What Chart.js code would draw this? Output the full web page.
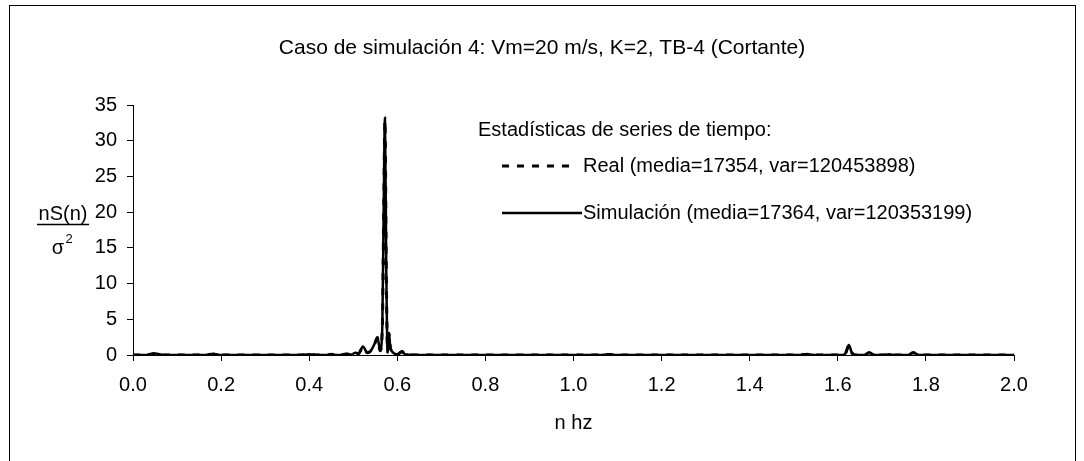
<!DOCTYPE html>
<html>
<head>
<meta charset="utf-8">
<script src="https://cdn.jsdelivr.net/npm/chart.js@4.4.0/dist/chart.umd.min.js"></script>
<style>
  html, body { margin: 0; padding: 0; background: #fff; }
</style>
</head>
<body>
<canvas id="myChart" width="1084" height="461"></canvas>
<script>
const titulo = "Caso de simulación 4: Vm=20 m/s, K=2, TB-4 (Cortante)";
const tituloLeyenda = "Estadísticas de series de tiempo:";
const nombreReal = "Real (media=17354, var=120453898)";
const nombreSim = "Simulación (media=17364, var=120353199)";

// frecuencia n (hz)
const frecuencias = [0, 0.03, 0.05, 0.07, 0.16, 0.184, 0.2, 0.38, 0.40, 0.42, 0.44, 0.45, 0.46,
    0.47, 0.484, 0.495, 0.505, 0.512, 0.522, 0.532, 0.54, 0.548, 0.555, 0.561, 0.566, 0.569,
    0.572, 0.575, 0.578, 0.581, 0.584, 0.588, 0.594, 0.60, 0.606, 0.611, 0.617, 0.625, 0.64,
    1.06, 1.078, 1.10, 1.51, 1.532, 1.55, 1.61, 1.618, 1.625, 1.632, 1.64, 1.66, 1.671, 1.685,
    1.705, 1.716, 1.73, 1.76, 1.771, 1.785, 2.0];

// nS(n)/sigma^2
const real = [0, 0, 0.2, 0, 0, 0.15, 0, 0, 0.1, 0, 0, 0.1, 0,
    0, 0.15, 0.05, 0.3, 0.2, 1.1, 0.3, 0.6, 1.4, 2.4, 0.6, 3.8, 19,
    32.8, 11.5, 0.4, 3.0, 1.1, 0.5, 0.2, 0.1, 0.3, 0.5, 0.1, 0.05, 0,
    0, 0.08, 0, 0, 0.1, 0, 0, 0.3, 1.3, 0.3, 0, 0, 0.3, 0,
    0, 0.1, 0, 0, 0.3, 0, 0];

const simulacion = [0, 0, 0.2, 0, 0, 0.15, 0, 0, 0.1, 0, 0, 0.1, 0,
    0, 0.15, 0.05, 0.3, 0.2, 1.2, 0.3, 0.6, 1.5, 2.5, 0.6, 4, 20,
    33.2, 12, 0.4, 3.1, 1.2, 0.5, 0.2, 0.1, 0.3, 0.5, 0.1, 0.05, 0,
    0, 0.08, 0, 0, 0.1, 0, 0, 0.3, 1.4, 0.3, 0, 0, 0.3, 0,
    0, 0.1, 0, 0, 0.35, 0, 0];

const fuente = "'Liberation Sans', Arial, sans-serif";

function puntos(valores){
    let arr = [];
    frecuencias.forEach((f, i) => {
        arr.push({x: f, y: valores[i]});
    });
    return arr;
}

// marco, titulo, titulo del eje y y leyenda
const adornos = {
    id: 'adornos',
    beforeDraw(chart){
        const ctx = chart.ctx;
        ctx.save();
        ctx.fillStyle = '#fff';
        ctx.fillRect(0, 0, chart.width, chart.height);
        ctx.strokeStyle = '#000';
        ctx.lineWidth = 1;
        ctx.strokeRect(9.5, 5.5, 1066, 480);
        ctx.restore();
    },
    afterDraw(chart){
        const ctx = chart.ctx;
        ctx.save();
        ctx.fillStyle = '#000';
        ctx.strokeStyle = '#000';
        ctx.textBaseline = 'middle';

        ctx.font = "21px " + fuente;
        ctx.textAlign = 'center';
        ctx.fillText(titulo, 542, 48);

        // nS(n) / sigma^2
        ctx.font = "20px " + fuente;
        ctx.fillText("nS(n)", 63, 214);
        ctx.lineWidth = 1.5;
        ctx.beginPath();
        ctx.moveTo(37, 224.5);
        ctx.lineTo(89, 224.5);
        ctx.stroke();
        ctx.fillText("σ", 58, 248);
        ctx.font = "13px " + fuente;
        ctx.fillText("2", 69, 239);

        // leyenda
        ctx.font = "20px " + fuente;
        ctx.textAlign = 'left';
        ctx.fillText(tituloLeyenda, 478, 130);

        const ds = chart.data.datasets;
        const filas = [{y: 166, x2: 569}, {y: 213, x2: 582}];
        ds.forEach((d, i) => {
            ctx.lineWidth = d.borderWidth;
            ctx.setLineDash(d.borderDash || []);
            ctx.beginPath();
            ctx.moveTo(502, filas[i].y);
            ctx.lineTo(filas[i].x2, filas[i].y);
            ctx.stroke();
            ctx.setLineDash([]);
            ctx.fillText(d.label, 583, filas[i].y);
        });
        ctx.restore();
    }
};

const ctx = document.getElementById('myChart');

new Chart(ctx, {
    type: 'line',
    data: {
        datasets: [{
            label: nombreReal,
            data: puntos(real),
            borderColor: '#000',
            borderWidth: 3,
            borderDash: [7, 8],
            pointRadius: 0,
            cubicInterpolationMode: 'monotone'
        }, {
            label: nombreSim,
            data: puntos(simulacion),
            borderColor: '#000',
            borderWidth: 2.5,
            pointRadius: 0,
            cubicInterpolationMode: 'monotone'
        }]
    },
    options: {
        responsive: false,
        animation: false,
        devicePixelRatio: 1,
        layout: {
            padding: {left: 0, top: 105, right: 70, bottom: 0}
        },
        plugins: {
            legend: {display: false},
            tooltip: {enabled: false}
        },
        scales: {
            x: {
                type: 'linear',
                min: 0,
                max: 2,
                afterFit: s => { s.height = 106; },
                ticks: {
                    stepSize: 0.2,
                    color: '#000',
                    padding: 12,
                    maxRotation: 0,
                    font: {family: fuente, size: 20},
                    callback: v => v.toFixed(1)
                },
                grid: {
                    drawOnChartArea: false,
                    drawTicks: true,
                    tickLength: 6,
                    tickColor: '#000'
                },
                border: {display: true, color: '#000', width: 1},
                title: {
                    display: true,
                    text: 'n hz',
                    color: '#000',
                    font: {family: fuente, size: 20},
                    padding: {top: 0, bottom: 26}
                }
            },
            y: {
                min: 0,
                max: 35,
                afterFit: s => { s.width = 133; },
                ticks: {
                    stepSize: 5,
                    color: '#000',
                    padding: 10,
                    font: {family: fuente, size: 20}
                },
                grid: {
                    drawOnChartArea: false,
                    drawTicks: true,
                    tickLength: 6,
                    tickColor: '#000'
                },
                border: {display: true, color: '#000', width: 1}
            }
        }
    },
    plugins: [adornos]
});
</script>
</body>
</html>
